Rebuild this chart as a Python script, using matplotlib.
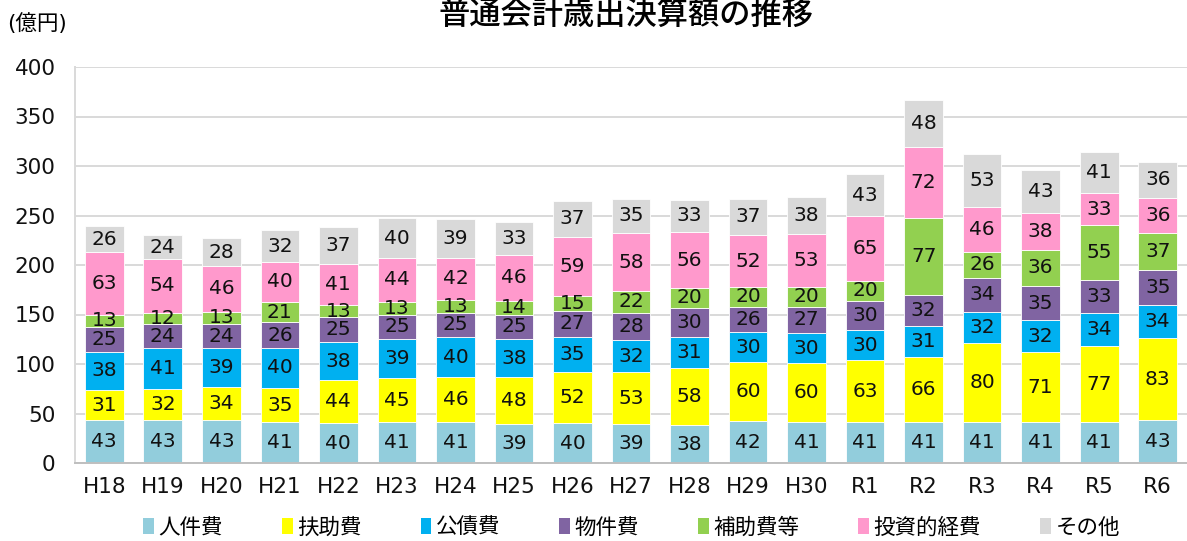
import numpy as np
import matplotlib.pyplot as plt
from matplotlib.patches import Patch

# latin glyphs from DejaVu (wide digits), kanji from Noto CJK
plt.rcParams['font.family'] = ['DejaVu Sans', 'Noto Sans CJK JP']

years = ['H18', 'H19', 'H20', 'H21', 'H22', 'H23', 'H24', 'H25', 'H26', 'H27',
         'H28', 'H29', 'H30', 'R1', 'R2', 'R3', 'R4', 'R5', 'R6']

jinken = [43, 43, 43, 41, 40, 41, 41, 39, 40, 39, 38, 42, 41, 41, 41, 41, 41, 41, 43]
fujo = [31, 32, 34, 35, 44, 45, 46, 48, 52, 53, 58, 60, 60, 63, 66, 80, 71, 77, 83]
kousai = [38, 41, 39, 40, 38, 39, 40, 38, 35, 32, 31, 30, 30, 30, 31, 32, 32, 34, 34]
bukken = [25, 24, 24, 26, 25, 25, 25, 25, 27, 28, 30, 26, 27, 30, 32, 34, 35, 33, 35]
hojo = [13, 12, 13, 21, 13, 13, 13, 14, 15, 22, 20, 20, 20, 20, 77, 26, 36, 55, 37]
toushi = [63, 54, 46, 40, 41, 44, 42, 46, 59, 58, 56, 52, 53, 65, 72, 46, 38, 33, 36]
sonota = [26, 24, 28, 32, 37, 40, 39, 33, 37, 35, 33, 37, 38, 43, 48, 53, 43, 41, 36]

series = [
    ('人件費', jinken, '#92CDDC'),
    ('扶助費', fujo, '#FFFF00'),
    ('公債費', kousai, '#00B0F0'),
    ('物件費', bukken, '#8064A2'),
    ('補助費等', hojo, '#92D050'),
    ('投資的経費', toushi, '#FF99CC'),
    ('その他', sonota, '#D9D9D9'),
]

fig = plt.figure(figsize=(11.87, 5.41), dpi=100)
ax = fig.add_axes([75 / 1187, 78 / 541, 1 - 75 / 1187, (463 - 67) / 541])

x = np.arange(len(years))
bottom = np.zeros(len(years))
handles = []
for name, vals, color in series:
    bars = ax.bar(x, vals, 0.66, bottom=bottom, color=color,
                  edgecolor='white', linewidth=0.6, zorder=2)
    ax.bar_label(bars, labels=[str(v) for v in vals], label_type='center',
                 fontsize=14.5, color='#111111')
    bottom += np.array(vals)
    handles.append(Patch(facecolor=color, label=name))

ax.set_xlim(-0.5, len(years) - 0.5)
ax.set_ylim(0, 400)
ax.set_yticks(np.arange(0, 401, 50))
ax.set_xticks(x)
ax.set_xticklabels(years)
ax.tick_params(axis='both', length=0, labelsize=15.5, colors='#111111')
ax.tick_params(axis='y', pad=14)
ax.tick_params(axis='x', pad=10)
ax.grid(axis='y', color='#D9D9D9', linewidth=1.4, zorder=0)
ax.set_axisbelow(True)
for s in ['top', 'right']:
    ax.spines[s].set_visible(False)
ax.spines['left'].set_color('#D9D9D9')
ax.spines['left'].set_linewidth(1.4)
ax.spines['bottom'].set_color('#BFBFBF')
ax.spines['bottom'].set_linewidth(1.4)

fig.text(0.527, 0.972, '普通会計歳出決算額の推移', ha='center', va='center',
         fontsize=22.5, family=['Noto Sans CJK JP'], fontweight='medium')
fig.text(0.006, 0.957, '(億円)', ha='left', va='center', fontsize=15.5)

fig.legend(handles=handles, loc='center', bbox_to_anchor=(0.532, 0.025), ncol=7,
           frameon=False, fontsize=15.5, handlelength=0.5, handleheight=0.75,
           handletextpad=0.2, columnspacing=2.75)

fig.savefig('out.png', dpi=100)
